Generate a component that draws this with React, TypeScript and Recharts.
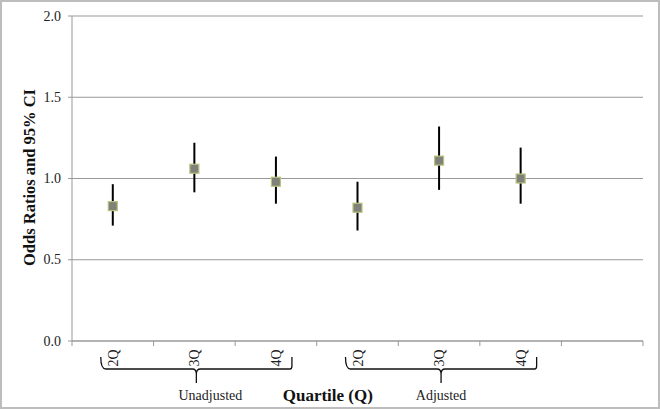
import React from "react";
import { ComposedChart, Line, XAxis, YAxis, CartesianGrid, ErrorBar } from "recharts";

const quartiles = ["2Q", "3Q", "4Q", "2Q", "3Q", "4Q"];
const groups = ["Unadjusted", "Adjusted"];
const oddsRatio = [0.83, 1.06, 0.98, 0.82, 1.11, 1.0];
const ciLow = [0.71, 0.915, 0.845, 0.68, 0.93, 0.845];
const ciHigh = [0.965, 1.22, 1.135, 0.98, 1.32, 1.19];
const yTicks = [0, 0.5, 1.0, 1.5, 2.0];
const slotCount = 7;

const data = oddsRatio.map((v, i) => ({
  x: i + 0.5,
  or: v,
  err: [v - ciLow[i], ciHigh[i] - v],
}));

const xTicks: number[] = [];
for (let i = 0; i <= slotCount * 2; i++) xTicks.push(i / 2);

const W = 660;
const H = 409;
const M = { top: 16, right: 17, bottom: 0, left: 0 };
const Y_W = 72;
const X_H = 68;
const slotW = (W - M.right - Y_W) / slotCount;
const serif = "Liberation Serif, Times New Roman, serif";
const serifStyle = { fontFamily: serif };

const XTick = (props: any) => {
  const { x, y, payload } = props;
  const v = payload.value as number;
  if (Number.isInteger(v)) {
    return <line x1={x} y1={y} x2={x} y2={y + 5} stroke="#999" strokeWidth={1} />;
  }
  const idx = Math.floor(v);
  const label = quartiles[idx];
  if (!label) return <g />;
  const parts: React.ReactNode[] = [
    <text
      key="t"
      x={0}
      y={0}
      transform={`translate(${x + 5},${y + 17}) rotate(-90)`}
      textAnchor="middle"
      style={{ ...serifStyle, fontSize: 14 }}
      fill="#222"
    >
      {label}
    </text>,
  ];
  if (idx % 3 === 1) {
    const g = Math.floor(idx / 3);
    const x0 = x - slotW - 12;
    const x1 = x + slotW + 16;
    const xm = x + 2;
    const yt = y + 16;
    const yh = y + 28;
    const yb = y + 42;
    const d = `M ${x0} ${yt} Q ${x0} ${yh} ${x0 + 5} ${yh} H ${xm - 4} Q ${xm} ${yh} ${xm} ${yh + 5} V ${yb} M ${xm} ${yh + 5} Q ${xm} ${yh} ${xm + 4} ${yh} H ${x1 - 2} Q ${x1} ${yh} ${x1} ${yh - 3} V ${yt}`;
    parts.push(<path key="b" d={d} stroke="#111" strokeWidth={1.3} fill="none" />);
    parts.push(
      <text
        key="g"
        x={xm + (g === 0 ? 14 : 0)}
        y={y + 59}
        textAnchor="middle"
        style={{ ...serifStyle, fontSize: 14 }}
        fill="#222"
      >
        {groups[g]}
      </text>
    );
  }
  return <g>{parts}</g>;
};

const YTick = (props: any) => {
  const { x, y, payload } = props;
  return (
    <text x={x} y={y} dy={4.5} textAnchor="end" style={{ ...serifStyle, fontSize: 14 }} fill="#222">
      {(payload.value as number).toFixed(1)}
    </text>
  );
};

const Square = (props: any) => {
  const { cx, cy } = props;
  if (cx == null || cy == null) return <g />;
  return (
    <rect x={cx - 4.5} y={cy - 4.5} width={9} height={9} fill="#7f817a" stroke="#b8c47c" strokeWidth={1.2} />
  );
};

export default function App() {
  return (
    <div style={{ position: "absolute", left: 0, top: 0, width: W, height: H, background: "#fff" }}>
      <ComposedChart width={W} height={H} data={data} margin={M}>
        <CartesianGrid vertical={false} stroke="#999" strokeWidth={1} />
        <XAxis
          dataKey="x"
          type="number"
          domain={[0, slotCount]}
          ticks={xTicks}
          interval={0}
          height={X_H}
          tickSize={0}
          tickMargin={0}
          tickLine={false}
          axisLine={{ stroke: "#999" }}
          tick={<XTick />}
          label={(p: any) => {
            const vb = p.viewBox || {};
            return (
              <text
                x={vb.x + vb.width * 0.448}
                y={H - 8}
                textAnchor="middle"
                style={{ ...serifStyle, fontWeight: "bold", fontSize: 17 }}
                fill="#111"
              >
                Quartile (Q)
              </text>
            );
          }}
        />
        <YAxis
          type="number"
          domain={[0, 2]}
          ticks={yTicks}
          width={Y_W}
          tickSize={4}
          tickMargin={7}
          axisLine={{ stroke: "#999" }}
          tickLine={{ stroke: "#999" }}
          tick={<YTick />}
          label={(p: any) => {
            const vb = p.viewBox || {};
            const cx = (vb.x || 0) + 29;
            const cy = (vb.y || 0) + (vb.height || 0) / 2 - 1;
            return (
              <text
                x={0}
                y={0}
                transform={`translate(${cx},${cy}) rotate(-90)`}
                textAnchor="middle"
                dominantBaseline="central"
                style={{ ...serifStyle, fontWeight: "bold", fontSize: 16.5 }}
                fill="#111"
              >
                Odds Ratios and 95% CI
              </text>
            );
          }}
        />
        <Line
          dataKey="or"
          stroke="none"
          isAnimationActive={false}
          dot={<Square />}
          activeDot={false}
        >
          <ErrorBar dataKey="err" direction="y" width={0} stroke="#000" strokeWidth={2} />
        </Line>
      </ComposedChart>
      <div
        style={{
          position: "absolute",
          left: 0,
          top: 0,
          width: W,
          height: H,
          border: "2px solid #bdbdbd",
          boxSizing: "border-box",
          pointerEvents: "none",
        }}
      />
    </div>
  );
}
